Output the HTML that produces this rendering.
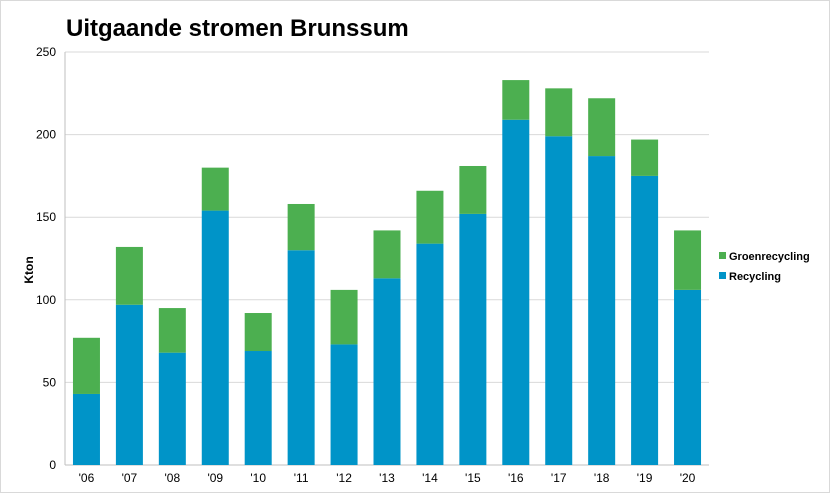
<!DOCTYPE html>
<html><head><meta charset="utf-8"><style>
body{margin:0;background:#fff;}
svg{display:block;font-family:"Liberation Sans",Arial,sans-serif;}
</style></head><body>
<svg id="c" width="830" height="496">
<rect x="0.5" y="0.5" width="829" height="492" fill="#fff" stroke="#d9d9d9"/>
<text x="66" y="36" font-size="24" font-weight="bold" fill="#000">Uitgaande stromen Brunssum</text>
<text transform="translate(33,270) rotate(-90)" font-size="12" font-weight="bold" text-anchor="middle">Kton</text>
<g id="grid"></g><g id="bars"></g><g id="labels"></g>
<g>
<rect x="719" y="252" width="7" height="7" fill="#4caf50"/>
<text x="729" y="260" font-size="11" font-weight="bold">Groenrecycling</text>
<rect x="719" y="272" width="7" height="7" fill="#0094c8"/>
<text x="729" y="280" font-size="11" font-weight="bold">Recycling</text>
</g>
</svg>
<script>
const categories=["'06","'07","'08","'09","'10","'11","'12","'13","'14","'15","'16","'17","'18","'19","'20"];
const recycling=[43,97,68,154,69,130,73,113,134,152,209,199,187,175,106];
const groenrecycling=[34,35,27,26,23,28,33,29,32,29,24,29,35,22,36];
const yTicks=[0,50,100,150,200,250];
const NS="http://www.w3.org/2000/svg";
const x0=65,x1=709,y0=465,y1=52,yMax=250;
const band=(x1-x0)/categories.length,bw=27;
const y=v=>y0-(v/yMax)*(y0-y1);
const xc=i=>x0+band*(i+0.5);
function mk(t,a,p){const e=document.createElementNS(NS,t);for(const k in a)e.setAttribute(k,a[k]);p.appendChild(e);return e;}
const grid=document.getElementById('grid'),bars=document.getElementById('bars'),labels=document.getElementById('labels');
yTicks.forEach(v=>{
 const l=mk('line',{x1:x0,x2:x1,y1:y(v),y2:y(v),stroke:v===0?'#bfbfbf':'#d9d9d9'},grid);
 
 
 const t=mk('text',{x:56,y:y(v)+4,'font-size':12,'text-anchor':'end'},labels);t.textContent=v;
 
 
});
const ax=mk('line',{x1:x0,x2:x0,y1:y1,y2:y0,stroke:'#bfbfbf'},grid);


categories.forEach((c,i)=>{
 const cx=xc(i);
 const r=mk('rect',{x:cx-bw/2,y:y(recycling[i]),width:bw,height:y0-y(recycling[i]),fill:'#0094c8'},bars);
 
 
 const top=recycling[i]+groenrecycling[i];
 const g=mk('rect',{x:cx-bw/2,y:y(top),width:bw,height:y(recycling[i])-y(top),fill:'#4caf50'},bars);
 
 
 const t=mk('text',{x:cx,y:482,'font-size':12,'text-anchor':'middle'},labels);t.textContent=c;
 
 
});
</script>
</body></html>
